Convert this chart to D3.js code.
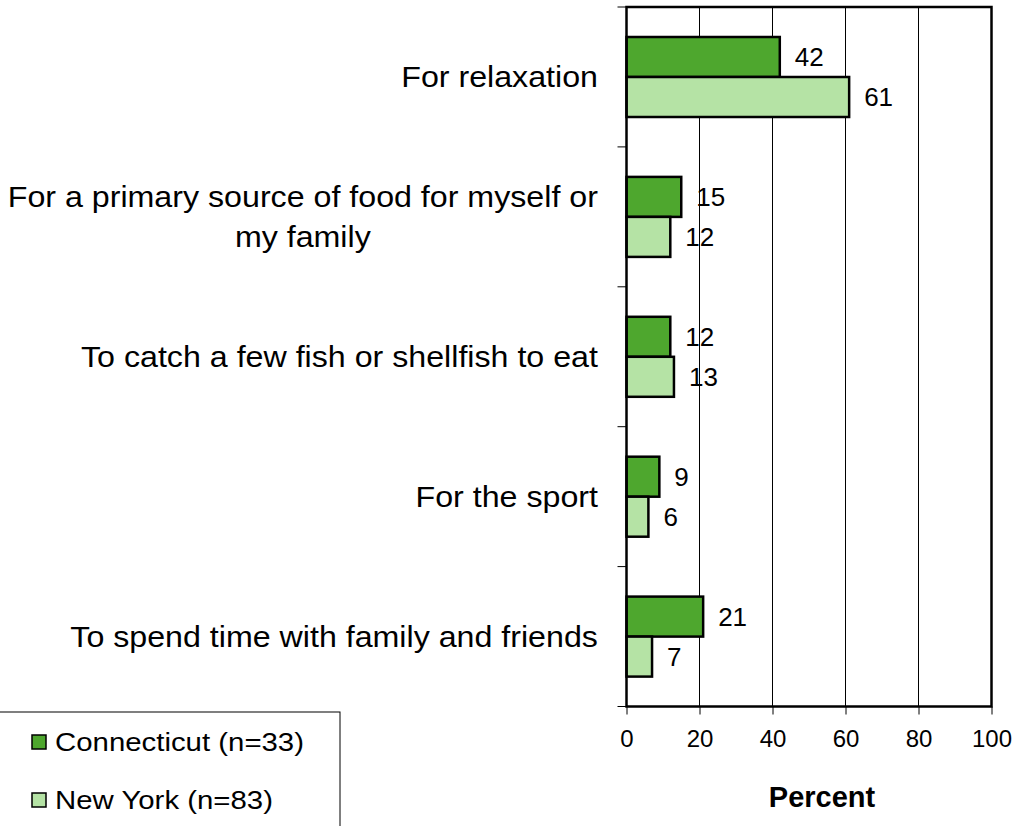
<!DOCTYPE html>
<html>
<head>
<meta charset="utf-8">
<script src="https://cdn.jsdelivr.net/npm/d3@7/dist/d3.min.js"></script>
<style>
  html, body { margin: 0; padding: 0; background: #fff; }
  svg { display: block; font-family: "Liberation Sans", Arial, sans-serif; }
</style>
</head>
<body>
<svg id="chart" width="1018" height="826"></svg>
<script>
// Reasons for fishing, by state (percent of respondents)
const categories = [
  ["For relaxation"],
  ["For a primary source of food for myself or", "my family"],
  ["To catch a few fish or shellfish to eat"],
  ["For the sport"],
  ["To spend time with family and friends"]
];
const seriesNames = ["Connecticut (n=33)", "New York (n=83)"];
const connecticut = [42, 15, 12, 9, 21];
const newYork = [61, 12, 13, 6, 7];
const xTicks = [0, 20, 40, 60, 80, 100];
const xTitle = "Percent";
const colors = ["#4EA72E", "#B5E3A5"];

const svg = d3.select("#chart");
const plot = { left: 626.5, right: 991.5, top: 7, bottom: 706.5 };
// slightly wide lettering
const stretch = 1.11;
const labelRight = 598;

const x = d3.scaleLinear().domain([0, 100]).range([plot.left, plot.right]);
const y = d3.scaleBand().domain(d3.range(categories.length)).range([plot.top, plot.bottom]).padding(0);
const ySub = d3.scaleBand().domain([0, 1]).range([30, 110]).padding(0);

const rows = categories.map((c, i) => ({ i, label: c, values: [connecticut[i], newYork[i]] }));

// vertical gridlines
svg.append("g")
  .selectAll("line")
  .data(xTicks.filter(t => t > 0 && t < 100))
  .join("line")
  .attr("x1", d => x(d)).attr("x2", d => x(d))
  .attr("y1", plot.top).attr("y2", plot.bottom)
  .attr("stroke", "#000").attr("stroke-width", 1);

// bars
const groups = svg.append("g").selectAll("g")
  .data(rows).join("g")
  .attr("transform", d => `translate(0,${y(d.i)})`);

groups.selectAll("rect")
  .data(d => d.values.map((v, s) => ({ v, s })))
  .join("rect")
  .attr("x", x(0))
  .attr("y", d => ySub(d.s))
  .attr("width", d => x(d.v) - x(0))
  .attr("height", ySub.bandwidth())
  .attr("fill", d => colors[d.s])
  .attr("stroke", "#000").attr("stroke-width", 2.5);

groups.selectAll("text.val")
  .data(d => d.values.map((v, s) => ({ v, s })))
  .join("text")
  .attr("class", "val")
  .attr("x", d => x(d.v) + 15)
  .attr("y", d => ySub(d.s) + ySub.bandwidth() / 2)
  .attr("dy", "0.36em")
  .attr("font-size", 26)
  .text(d => d.v);

// plot frame
svg.append("rect")
  .attr("x", plot.left).attr("y", plot.top)
  .attr("width", plot.right - plot.left).attr("height", plot.bottom - plot.top)
  .attr("fill", "none").attr("stroke", "#000").attr("stroke-width", 2.5);

// category axis ticks (band boundaries)
svg.append("g").selectAll("line")
  .data(d3.range(categories.length + 1))
  .join("line")
  .attr("x1", plot.left - 9).attr("x2", plot.left)
  .attr("y1", d => d < categories.length ? y(d) : plot.bottom)
  .attr("y2", d => d < categories.length ? y(d) : plot.bottom)
  .attr("stroke", "#000").attr("stroke-width", 1);

// category labels: lines centred on each other, block right-aligned to the axis
const catLabels = svg.append("g").selectAll("text")
  .data(rows).join("text")
  .attr("text-anchor", "middle")
  .attr("font-size", 29)
  .attr("fill", "#000");
catLabels.each(function(d) {
  const t = d3.select(this);
  const lh = 40;
  const n = d.label.length;
  d.label.forEach((line, k) => {
    t.append("tspan")
      .attr("x", 0)
      .attr("y", (k - (n - 1) / 2) * lh)
      .attr("dy", "0.36em")
      .text(line);
  });
  const w = d3.max(t.selectAll("tspan").nodes(), nd => nd.getComputedTextLength()) * stretch;
  t.attr("transform", `translate(${labelRight - w / 2},${y(d.i) + y.bandwidth() / 2}) scale(${stretch},1)`);
});

// value axis
const xAxis = svg.append("g")
  .attr("transform", `translate(0,${plot.bottom})`)
  .call(d3.axisBottom(x).tickValues(xTicks).tickSize(8).tickPadding(32));
xAxis.select(".domain").remove();
xAxis.selectAll(".tick line").attr("stroke", "#000");
xAxis.selectAll(".tick text")
  .attr("font-family", "Liberation Sans, Arial, sans-serif")
  .attr("font-size", 24).attr("fill", "#000")
  .attr("dy", "0");

svg.append("text")
  .attr("x", 822)
  .attr("y", 807)
  .attr("text-anchor", "middle")
  .attr("font-size", 29).attr("font-weight", "bold")
  .text(xTitle);

// legend
const legend = svg.append("g");
legend.append("rect")
  .attr("x", -2).attr("y", 712).attr("width", 342).attr("height", 130)
  .attr("fill", "#fff").attr("stroke", "#000").attr("stroke-width", 1);
const items = legend.selectAll("g.item")
  .data(seriesNames).join("g").attr("class", "item")
  .attr("transform", (d, i) => `translate(32,${742 + i * 58})`);
items.append("rect")
  .attr("x", 0).attr("y", -7).attr("width", 14).attr("height", 14)
  .attr("fill", (d, i) => colors[i]).attr("stroke", "#000").attr("stroke-width", 1.5);
items.append("text")
  .attr("transform", "translate(23,0) scale(1.13,1)")
  .attr("dy", "0.36em")
  .attr("font-size", 26)
  .text(d => d);
</script>
</body>
</html>
